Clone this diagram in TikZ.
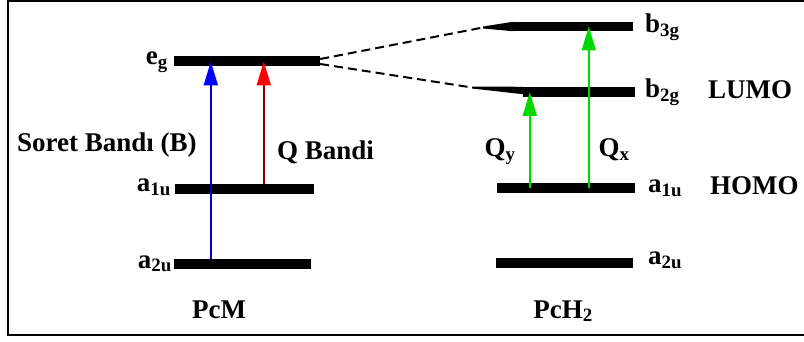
\documentclass[tikz,border=0pt]{standalone}
\usepackage{fontspec}
\setmainfont{Liberation Serif}
\usetikzlibrary{arrows.meta,positioning}

\begin{document}
\begin{tikzpicture}[
  x=1pt, y=-1pt,
  font=\fontsize{27}{31}\selectfont\bfseries,
  level/.style={fill=black, inner sep=0pt, minimum height=10pt, minimum width=#1},
  lbl/.style={inner sep=0pt},
  band/.style 2 args={line width=2pt, draw=#1,
    -{Triangle[length=24pt,width=14pt,color=#2]}},
  split/.style={line width=2pt, dash pattern=on 9pt off 5pt}
]
\useasboundingbox (0,0) rectangle (804,342);

% ── Frame ───────────────────────────────────────────────────────────────────
\draw[line width=2.5pt] (806,0.8) -| (8,335) -- (806,335);

% ── PcM levels ──────────────────────────────────────────────────────────────
\node[level=146pt] (egM)   at (247,61.5)  {};
\node[level=139pt] (aoneM) at (244.5,189) {};
\node[level=137pt] (atwoM) at (242.5,264) {};

\node[lbl, anchor=base east] (egML)   at (168,65)  {e\textsubscript{g}};
\node[lbl, anchor=base east] (aoneML) at (171,192) {a\textsubscript{1u}};
\node[lbl, anchor=base east] (atwoML) at (172,268) {a\textsubscript{2u}};
\node[lbl, anchor=base]      (pcm)    at (219,318) {PcM};

% ── PcH2 levels ─────────────────────────────────────────────────────────────
\node[level=120pt, minimum height=9pt] (bthreeH) at (573,26.5) {};
\node[level=112pt] (btwoH)  at (579,92)    {};
\node[level=138pt] (aoneH)  at (566,188)   {};
\node[level=137pt] (atwoH)  at (564.5,263) {};

\coordinate (bthreeT) at (483,27.5);
\coordinate (btwoT)   at (472,87.5);
\fill ([yshift=1pt]bthreeT) -- (bthreeH.north west) -- (bthreeH.south west)
  -- ([yshift=-1pt]bthreeT) -- cycle;
\fill ([yshift=1pt]btwoT) -- (btwoH.north west) -- ([yshift=3pt]btwoH.south west)
  -- ([yshift=-1pt]btwoT) -- cycle;

\node[lbl, anchor=base west] (bthreeHL) at (645,33)  {b\textsubscript{3g}};
\node[lbl, anchor=base west] (btwoHL)   at (645,98)  {b\textsubscript{2g}};
\node[lbl, anchor=base west] (aoneHL)   at (648,193) {a\textsubscript{1u}};
\node[lbl, anchor=base west] (atwoHL)   at (648,265) {a\textsubscript{2u}};
\node[lbl, anchor=base west] (lumo)     at (708,99)  {LUMO};
\node[lbl, anchor=base west] (homo)     at (710,195) {HOMO};
\node[lbl, anchor=base]      (pch)      at (563,318) {PcH\textsubscript{2}};

% ── Splitting of e_g ────────────────────────────────────────────────────────
\draw[split] ([yshift=2.5pt]egM.east)  -- (bthreeT);
\draw[split] ([yshift=-2.5pt]egM.east) -- (btwoT);

% ── Transitions ─────────────────────────────────────────────────────────────
\draw[band={blue!75!black}{blue}]
  ([xshift=37pt]atwoM.north west) -- ([xshift=37pt]atwoM.north west |- egM.center);
\draw[band={red!55!black}{red}]
  ([xshift=89pt]aoneM.north west) -- ([xshift=89pt]aoneM.north west |- egM.center);
\draw[band={green!85!black}{green!85!black}]
  ([xshift=33pt]aoneH.west) -- ([xshift=33pt]aoneH.west |- btwoH.center);
\draw[band={green!85!black}{green!85!black}]
  ([xshift=92pt]aoneH.west) -- ([xshift=92pt]aoneH.west |- bthreeH.center);

\node[lbl, anchor=base west] (soret) at (17,152)  {Soret Bandı (B)};
\node[lbl, anchor=base west] (qband) at (277,160) {Q Bandi};
\node[lbl, anchor=base]      (qy)    at (500,157) {Q\textsubscript{y}};
\node[lbl, anchor=base]      (qx)    at (614,157) {Q\textsubscript{x}};

\end{tikzpicture}
\end{document}
